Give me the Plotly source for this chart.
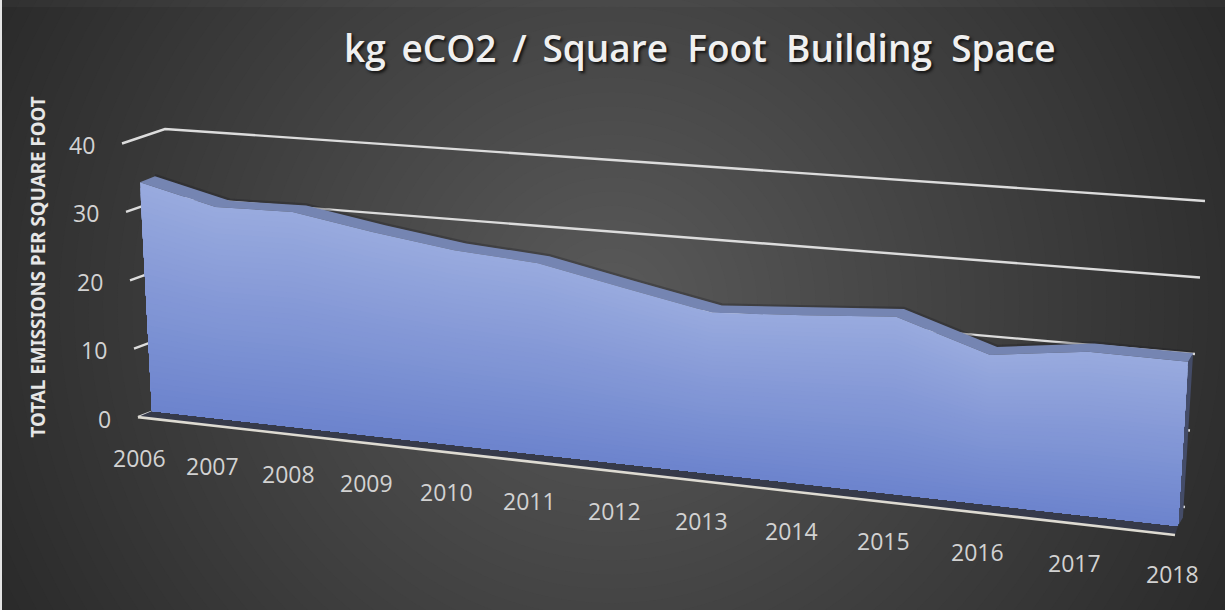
import plotly.graph_objects as go

years = [2006, 2007, 2008, 2009, 2010, 2011, 2012, 2013, 2014, 2015, 2016, 2017, 2018]
emissions = [33.4, 30.7, 30.9, 29.0, 27.4, 26.6, 24.2, 21.9, 22.7, 23.6, 19.7, 21.3, 21.2]
value_ticks = [0, 10, 20, 30, 40]
title_text = "kg\u2009 eCO2\u2009 /\u2009 Square\u00a0\u00a0Foot\u00a0\u00a0Building\u00a0\u00a0Space"
value_title = "TOTAL EMISSIONS PER SQUARE FOOT"

W, H = 1225, 610


def u_of(i):
    """foreshortened position along the category axis (0..1)"""
    return (73.5 * i + 1.18 * i * i) / 1052


def front(i, v):
    u = u_of(i)
    return (152 + 1026 * u + (-0.36 + 0.84 * u) * v,
            411 + 115 * u - (6.85 + 0.9 * u) * v)


def depth(i):
    u = u_of(i)
    return 15 - 10 * u, -6 - 2.5 * u


def back(i, v):
    x, y = front(i, v)
    dx, dy = depth(i)
    return x + dx, y + dy


def wall_left(v):
    return 165 + (40 - v) * 0.375, 129 + (40 - v) * 6.8


def wall_right(v):
    return 1205 - (40 - v) * 0.5, 201 + (40 - v) * 7.65


def tick_start(v):
    return 122 + (40 - v) * 0.4, 143.5 + (40 - v) * 6.84


def mix(a, b, f):
    return "rgb(%d,%d,%d)" % tuple(round(a[k] + (b[k] - a[k]) * f) for k in range(3))


def poly(pts, color, name=""):
    return go.Scatter(x=[p[0] for p in pts], y=[p[1] for p in pts], mode="lines",
                      fill="toself", fillcolor=color, line=dict(width=0),
                      hoverinfo="skip", showlegend=False, name=name)


def path(pts, color, width, name=""):
    return go.Scatter(x=[p[0] for p in pts], y=[p[1] for p in pts], mode="lines",
                      line=dict(color=color, width=width), hoverinfo="skip",
                      showlegend=False, name=name)


fig = go.Figure()

# value gridlines on side wall and back wall
for v in value_ticks:
    fig.add_trace(path([tick_start(v), wall_left(v), wall_right(v)], "#dcdcdc", 2.4, f"grid {v}"))

n = len(years)
idx = list(range(n))

# floor of the series and front floor line
fig.add_trace(poly([front(0, 0), front(n - 1, 0), (1175, 535), tick_start(0)], "#363a4a", "floor"))
fig.add_trace(path([tick_start(0), (1175, 535)], "#dedbd2", 2.6, "axis"))

# right side of the series
fig.add_trace(poly([front(n - 1, emissions[-1]), back(n - 1, emissions[-1]),
                    back(n - 1, 0), front(n - 1, 0)], "#444c68", "side"))

# soft dark edge behind the top surface
fig.add_trace(path([(back(i, emissions[i])[0], back(i, emissions[i])[1] - 1) for i in idx],
                   "rgba(28,28,34,0.3)", 2.5, "edge"))

# top surface
fig.add_trace(poly([front(i, emissions[i]) for i in idx] +
                   [back(i, emissions[i]) for i in reversed(idx)], "#7585b2", "top"))

# front face: vertical colour ramp, painted from the top down
steps = 40
light, deep = (152, 170, 222), (108, 131, 205)
for k in range(steps, 0, -1):
    f = k / steps
    pts = [front(i, emissions[i] * f) for i in idx] + [front(n - 1, 0), front(0, 0)]
    fig.add_trace(poly(pts, mix(deep, light, f), "front"))

ann = []
for i, y in enumerate(years):
    u = u_of(i)
    bx, by = front(i, 0)
    ann.append(dict(x=bx - 13 + 8 * u, y=by + 46.5 + 1.5 * u, text=str(y), showarrow=False,
                    font=dict(family="Open Sans", size=23, color="#d2d2d2"),
                    xanchor="center", yanchor="middle"))
for v in value_ticks:
    sx, sy = tick_start(v)
    ann.append(dict(x=sx - 25, y=sy + 1.5, text=str(v), showarrow=False,
                    font=dict(family="Open Sans", size=23, color="#d2d2d2"),
                    xanchor="right", yanchor="middle"))
ann.append(dict(x=37, y=267.5, text=f"<b>{value_title}</b>", textangle=-90, showarrow=False,
                font=dict(family="Liberation Sans Narrow, Noto Sans", size=18.8, color="#e6e6e6"),
                xanchor="center", yanchor="middle"))
ann.append(dict(x=699.5, y=47, text=title_text, showarrow=False,
                font=dict(family="Open Sans", size=37, weight=600, color="#f0f0f0",
                          shadow="2px 2px 3px #111"),
                xanchor="center", yanchor="middle"))

# radial background, one grey level per ring
shapes = []
for level in range(32, 91):
    r = (90 - level) / 44
    shapes.append(dict(type="circle", xref="x", yref="y", layer="below",
                       x0=612 - 640 * r, x1=612 + 640 * r,
                       y0=305 - 625 * r, y1=305 + 625 * r,
                       line=dict(width=0), fillcolor=f"rgb({level},{level},{level})"))
# pale strip along the picture's left edge and faint lighter band along its top
shapes.append(dict(type="rect", xref="x", yref="y", layer="below", x0=0, x1=2, y0=0, y1=H,
                   line=dict(width=0), fillcolor="#e4e4e4"))
shapes.append(dict(type="rect", xref="x", yref="y", layer="below", x0=2, x1=W, y0=0, y1=7,
                   line=dict(width=0), fillcolor="rgba(255,255,255,0.03)"))

fig.update_layout(
    width=W, height=H, margin=dict(l=0, r=0, t=0, b=0), autosize=False,
    paper_bgcolor="#202020", plot_bgcolor="rgba(0,0,0,0)", showlegend=False,
    xaxis=dict(range=[0, W], visible=False, fixedrange=True),
    yaxis=dict(range=[H, 0], visible=False, fixedrange=True),
    shapes=shapes, annotations=ann,
)

fig.write_html("out.html", config={"displayModeBar": False},
               post_script="document.body.style.margin='0';document.body.style.overflow='hidden';")
